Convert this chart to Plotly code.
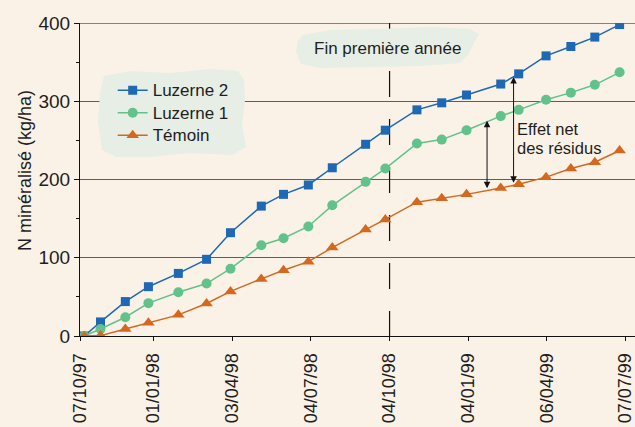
import plotly.graph_objects as go

# ---------------- data ----------------
sample_dates = ["1997-10-12", "1997-10-31", "1997-11-29", "1997-12-26", "1998-01-30",
                "1998-03-04", "1998-04-01", "1998-05-07", "1998-06-02", "1998-07-01",
                "1998-07-29", "1998-09-06", "1998-09-29", "1998-11-05", "1998-12-04",
                "1999-01-02", "1999-02-11", "1999-03-04", "1999-04-05", "1999-05-04",
                "1999-06-01", "1999-06-30"]
luzerne2 = [0, 18, 44, 63, 80, 98, 132, 166, 181, 193, 215, 245, 263, 289, 298, 308,
            322, 335, 358, 370, 382, 398]
luzerne1 = [0, 9, 24, 42, 56, 67, 86, 116, 125, 140, 167, 197, 214, 246, 251, 263,
            281, 289, 302, 311, 321, 337]
temoin = [0, 0.5, 9, 17, 27, 41.5, 57, 73, 84, 95, 113, 136, 149, 171, 176, 181,
          189, 194, 203, 214, 222, 237]

x_tick_dates = ["1997-10-07", "1998-01-01", "1998-04-03", "1998-07-04", "1998-10-04",
                "1999-01-04", "1999-04-06", "1999-07-07"]
x_tick_labels = ["07/10/97", "01/01/98", "03/04/98", "04/07/98", "04/10/98",
                 "04/01/99", "06/04/99", "07/07/99"]
y_tick_vals = [0, 100, 200, 300, 400]
y_minor_vals = [50, 150, 250, 350]

end_first_year = "1998-10-04"
arrow_dates = ["1999-01-26", "1999-02-26"]
arrow_tops = [275, 331]
arrow_bottoms = [187, 194]

# ---------------- style ----------------
BG = "#FAF2E6"
BLOB = "#E6EEE6"
BLUE = "#1E68B4"
GREEN = "#62C28C"
ORANGE = "#D4681E"
TXT = "#1E1E1E"
SANS = "Liberation Sans, Arial, sans-serif"

W, H = 635, 427
ML, MR, MT, MB = 80, 0, 23, 91
PW, PH = W - ML - MR, H - MT - MB


def px_x(px):
    return (px - ML) / PW


def px_y(py):
    return (H - MB - py) / PH


def blob_path(pts):
    s = "M %.4f,%.4f " % (px_x(pts[0][0]), px_y(pts[0][1]))
    for (a, b) in pts[1:]:
        s += "L %.4f,%.4f " % (px_x(a), px_y(b))
    return s + "Z"


def lname(t):
    return '<span style="font-size:17px">%s</span>' % t


fig = go.Figure()
fig.add_trace(go.Scatter(x=sample_dates, y=luzerne2, mode="lines+markers", name=lname("Luzerne 2"),
                         line=dict(color=BLUE, width=1.5),
                         marker=dict(symbol="square", size=9, color=BLUE)))
fig.add_trace(go.Scatter(x=sample_dates, y=luzerne1, mode="lines+markers", name=lname("Luzerne 1"),
                         line=dict(color=GREEN, width=1.5),
                         marker=dict(symbol="circle", size=10, color=GREEN)))
fig.add_trace(go.Scatter(x=sample_dates, y=temoin, mode="lines+markers", name=lname("Témoin"),
                         line=dict(color=ORANGE, width=1.5),
                         marker=dict(symbol="triangle-up", size=11, color=ORANGE)))

shapes = []
shapes.append(dict(type="line", xref="paper", x0=0, x1=1, yref="y", y0=400, y1=400,
                   line=dict(color="#111111", width=1.2), layer="between"))
shapes.append(dict(type="line", xref="x", x0=end_first_year, x1=end_first_year, yref="y",
                   y0=400, y1=0, line=dict(color="#111111", width=1.2, dash="26px,22px"),
                   layer="between"))
legend_blob = [(104, 76), (130, 71), (170, 73), (210, 69), (238, 71), (244, 80), (245, 100),
               (242, 125), (246, 147), (232, 155), (190, 153), (150, 157), (116, 157),
               (102, 150), (98, 122), (100, 94)]
fin_blob = [(303, 35), (330, 30), (380, 29), (430, 27), (470, 29), (479, 34), (474, 43),
            (468, 55), (460, 63), (420, 66), (370, 67), (320, 68), (301, 64), (296, 52),
            (298, 41)]
for pts in (legend_blob, fin_blob):
    shapes.append(dict(type="path", xref="paper", yref="paper", path=blob_path(pts),
                       fillcolor=BLOB, line=dict(width=0), layer="above"))

annotations = [
    dict(text="N minéralisé (kg/ha)", xref="paper", yref="paper", x=px_x(25), y=px_y(171),
         textangle=-90, showarrow=False, xanchor="center", yanchor="middle",
         font=dict(family=SANS, size=18, color=TXT)),
    dict(text="Fin première année", xref="paper", yref="paper", x=px_x(387), y=px_y(48.5),
         showarrow=False, xanchor="center", yanchor="middle", borderpad=0, borderwidth=0,
         font=dict(family=SANS, size=17, color=TXT)),
    dict(text="Effet net", xref="paper", yref="paper", x=px_x(516.5), y=px_y(129),
         showarrow=False, xanchor="left", yanchor="middle", borderpad=0, borderwidth=0,
         font=dict(family=SANS, size=16.5, color=TXT)),
    dict(text="des résidus", xref="paper", yref="paper", x=px_x(516.5), y=px_y(147.5),
         showarrow=False, xanchor="left", yanchor="middle", borderpad=0, borderwidth=0,
         font=dict(family=SANS, size=16.5, color=TXT)),
]
for d, t, b in zip(arrow_dates, arrow_tops, arrow_bottoms):
    annotations.append(dict(text="", x=d, y=t, ax=d, ay=b, xref="x", yref="y", axref="x",
                            ayref="y", showarrow=True, arrowhead=2, startarrowhead=2,
                            arrowside="end+start", arrowsize=1.3, startarrowsize=1.3,
                            arrowwidth=1, arrowcolor="#111111", standoff=0, startstandoff=0))

fig.update_layout(
    width=W, height=H,
    margin=dict(l=ML, r=MR, t=MT, b=MB, pad=0, autoexpand=False),
    paper_bgcolor=BG, plot_bgcolor=BG,
    showlegend=True,
    legend=dict(x=px_x(112.7), y=px_y(74), xanchor="left", yanchor="top",
                bgcolor="rgba(0,0,0,0)", borderwidth=0, tracegroupgap=0,
                font=dict(family=SANS, size=15, color=TXT)),
    shapes=shapes, annotations=annotations,
    xaxis=dict(type="date", range=["1997-10-07", "1999-07-18"], tickmode="array",
               tickvals=x_tick_dates, ticktext=x_tick_labels,
               tickangle=-90, ticklabeloverflow="allow", automargin=False,
               ticks="outside", ticklen=4, tickwidth=1.2, tickcolor="#111111",
               showline=True, linecolor="#111111", linewidth=1.2, showgrid=False,
               zeroline=False, ticklabelstandoff=5,
               tickfont=dict(family=SANS, size=18, color=TXT)),
    xaxis2=dict(type="date", overlaying="x", matches="x", anchor="y", side="bottom",
                tickmode="array", tickvals=x_tick_dates, ticks="inside", ticklen=4,
                tickwidth=1.2, tickcolor="#111111", showticklabels=False, showgrid=False,
                showline=False, zeroline=False, automargin=False),
    yaxis=dict(range=[0, 400], tickmode="array", tickvals=y_tick_vals, automargin=False,
               ticks="outside", ticklen=5, tickwidth=1.2, tickcolor="#111111",
               showline=True, linecolor="#111111", linewidth=1.2,
               showgrid=True, gridcolor="#5E5E5E", gridwidth=1.2, zeroline=False,
               ticklabelstandoff=0,
               minor=dict(tickvals=y_minor_vals, ticks="outside", ticklen=3,
                          tickcolor="#111111", tickwidth=1.2, showgrid=False),
               tickfont=dict(family=SANS, size=19, color=TXT)),
    yaxis2=dict(overlaying="y", matches="y", anchor="x", side="left", tickmode="array",
                tickvals=y_minor_vals, ticks="inside", ticklen=3, tickwidth=1.2,
                tickcolor="#111111", showticklabels=False, showgrid=False,
                showline=False, zeroline=False, automargin=False),
)

fig.write_html("out.html", config={"displayModeBar": False},
               post_script="document.body.style.margin='0px';")
